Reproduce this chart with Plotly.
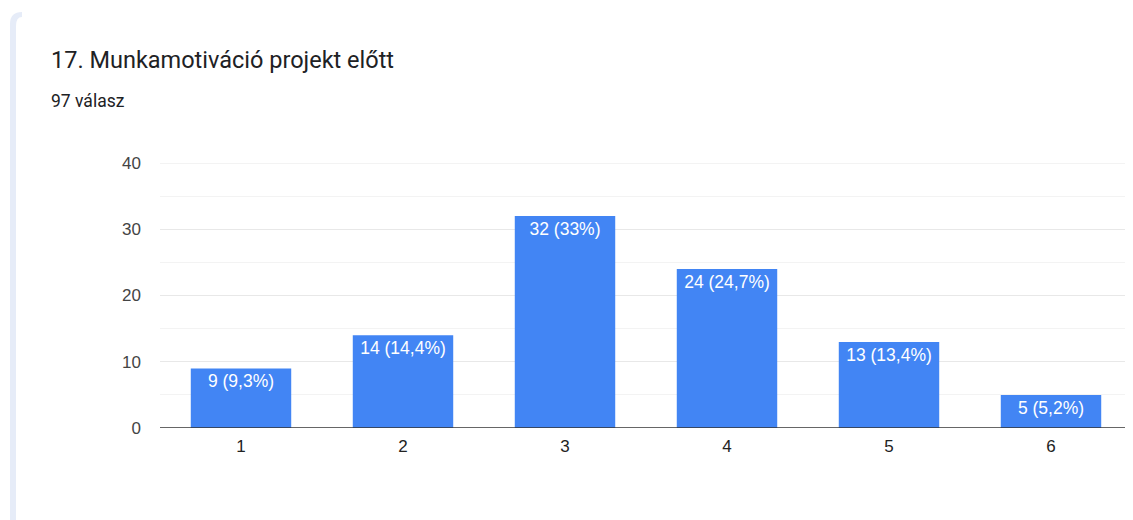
import plotly.graph_objects as go

categories = ["1", "2", "3", "4", "5", "6"]
counts = [9, 14, 32, 24, 13, 5]
percent_labels = ["9,3%", "14,4%", "33%", "24,7%", "13,4%", "5,2%"]
title_text = "17. Munkamotiváció projekt előtt"
subtitle_text = "97 válasz"
y_ticks = [0, 10, 20, 30, 40]

OFF = 8  # page body margin
W, H = 1133, 520
L, T = 160 - OFF, 163 - OFF
R = W - (1132 - OFF)
B = H - (428 - OFF)
pw, ph = W - L - R, H - T - B

def px(x):
    return (x - OFF - L) / pw

def py(y):
    return 1 - (y - OFF - T) / ph

labels = [f"{c} ({p})" for c, p in zip(counts, percent_labels)]

fig = go.Figure()
fig.add_trace(go.Bar(
    x=[int(c) for c in categories], y=counts,
    marker=dict(color="#4285f4", line=dict(width=0)),
    width=0.62,
    text=labels, textposition="inside", insidetextanchor="end",
    textangle=0, constraintext="none",
    textfont=dict(color="white", size=17.5, family="Liberation Sans, Arial"),
    hoverinfo="skip",
))

fig.update_layout(
    width=W, height=H,
    margin=dict(l=L, r=R, t=T, b=B),
    paper_bgcolor="white", plot_bgcolor="white",
    showlegend=False,
    xaxis=dict(
        range=[0.5, 6.5], tickmode="array", tickvals=[1, 2, 3, 4, 5, 6],
        ticktext=categories, showgrid=False, zeroline=False,
        showline=False, ticks="", ticklabelstandoff=6,
        tickfont=dict(size=17, color="#222", family="Liberation Sans, Arial"),
    ),
    yaxis=dict(
        range=[0, 40], tickmode="array", tickvals=y_ticks,
        showgrid=True, gridcolor="#e8e8e8", gridwidth=1,
        minor=dict(dtick=5, showgrid=True, gridcolor="#f3f3f3", gridwidth=1),
        zeroline=False, showline=False, ticks="", ticklabelstandoff=18,
        tickfont=dict(size=17, color="#444", family="Liberation Sans, Arial"),
    ),
    font=dict(family="Liberation Sans, Arial"),
)

# baseline
fig.add_shape(type="line", xref="paper", yref="y", x0=0, x1=1, y0=0, y1=0,
              line=dict(color="#333", width=1.5), layer="above")
# top gridline at 40
fig.add_shape(type="line", xref="paper", yref="y", x0=0, x1=1, y0=40, y1=40,
              line=dict(color="#e8e8e8", width=1), layer="below")

# left card strip
fig.add_shape(type="path", xref="paper", yref="paper",
              path=f"M {px(10)},{py(528)} L {px(10)},{py(24)} Q {px(10)},{py(12)} {px(22)},{py(12)} "
                   f"L {px(22)},{py(17)} Q {px(16)},{py(17)} {px(16)},{py(26)} L {px(16)},{py(528)} Z",
              fillcolor="#e6ecf8", line=dict(width=0), layer="above")

fig.add_annotation(text=title_text, xref="paper", yref="paper",
                   x=px(49), y=py(60), xanchor="left", yanchor="middle",
                   showarrow=False,
                   font=dict(size=23.5, color="#202124", family="Roboto, Arial"))
fig.add_annotation(text=subtitle_text, xref="paper", yref="paper",
                   x=px(49), y=py(101), xanchor="left", yanchor="middle",
                   showarrow=False,
                   font=dict(size=17.5, color="#202124", family="Roboto, Arial"))

fig.write_html("out.html")
